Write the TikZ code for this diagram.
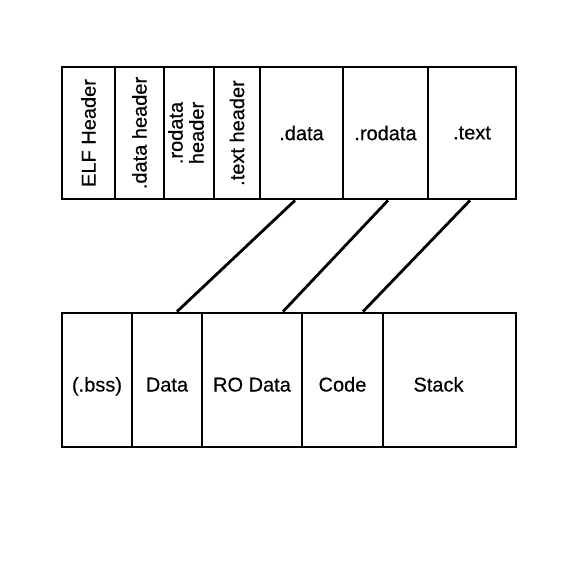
\documentclass[tikz,border=0pt]{standalone}
\usepackage{fontspec}
\setmainfont[UprightFeatures={FakeBold=0.4}]{Liberation Sans}
\newcommand{\vlabel}[1]{\rotatebox{90}{#1}}
\tikzset{cell/.style={draw,line width=2.8pt,inner sep=0pt},
	lowtext/.style={text height=23pt,text depth=0pt}}

\begin{document}
\begin{tikzpicture}[x=1pt,y=-1pt]
		\useasboundingbox (0,0) rectangle (566,567);
		\begin{scope}[font=\fontsize{20}{21}\selectfont]
			% ELF file
			\node[cell,minimum width=53pt,minimum height=132pt] (elf) at (88.5,133) {\vlabel{ELF Header}};
			\node[cell,minimum width=49pt,minimum height=132pt] (dhdr) at (139.5,133) {\vlabel{.data header}};
			\node[cell,minimum width=50pt,minimum height=132pt] (rhdr) at (189,133) {\vlabel{\begin{tabular}{@{}c@{}}.rodata\\header\end{tabular}}};
			\node[cell,minimum width=46pt,minimum height=132pt] (thdr) at (237,133) {\vlabel{.text header}};
			\node[cell,minimum width=83pt,minimum height=132pt] (sdata) at (301.5,133) {.data};
			\node[cell,minimum width=85pt,minimum height=132pt] (srodata) at (385.5,133) {.rodata};
			\node[cell,minimum width=88pt,minimum height=132pt] (stext) at (472,133) {.text};
			% memory image
			\node[cell,lowtext,minimum width=70pt,minimum height=134pt] (bss) at (97,380) {(.bss)};
			\node[cell,lowtext,minimum width=70pt,minimum height=134pt] (data) at (167,380) {Data};
			\node[cell,lowtext,minimum width=100pt,minimum height=134pt] (rodata) at (252,380) {RO Data};
			\node[cell,lowtext,minimum width=81pt,minimum height=134pt] (code) at (342.5,380) {Code};
			\node[cell,lowtext,minimum width=133pt,minimum height=134pt] (stack) at (449.5,380) {Stack\hspace*{22pt}};
		\end{scope}
		\begin{scope}[line width=2.8pt]
			\draw ([xshift=-6.5pt]sdata.south) to ([xshift=10pt]data.north);
			\draw ([xshift=2.5pt]srodata.south) to ([xshift=31pt]rodata.north);
			\draw ([xshift=-2pt]stext.south) to ([xshift=20.5pt]code.north);
		\end{scope}
	\end{tikzpicture}
\end{document}
